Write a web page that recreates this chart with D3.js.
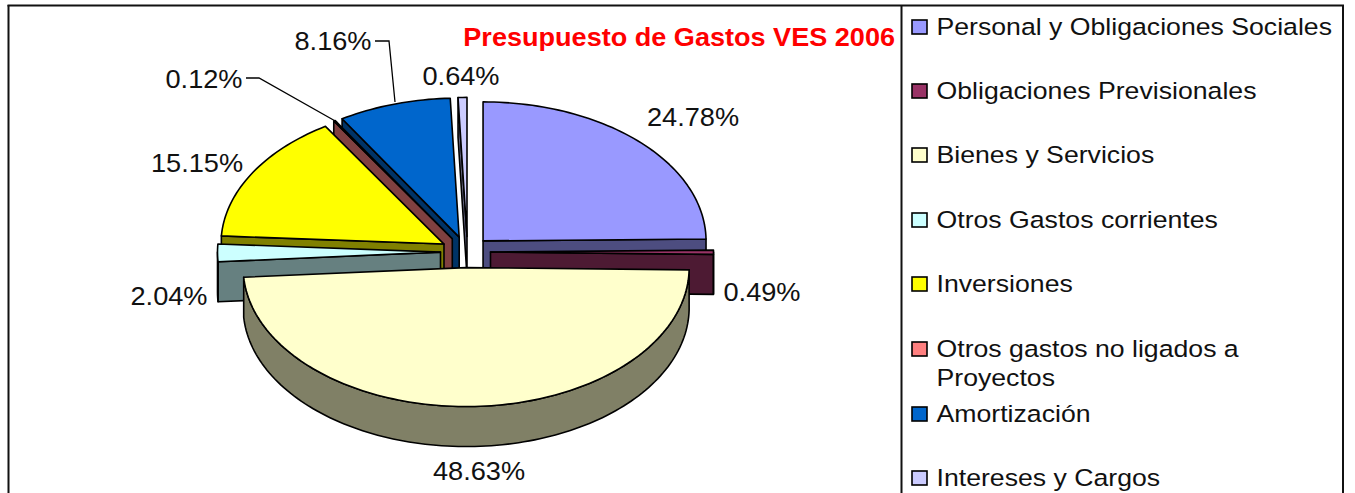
<!DOCTYPE html>
<html>
<head>
<meta charset="utf-8">
<title>Presupuesto de Gastos VES 2006</title>
<script src="https://d3js.org/d3.v7.min.js"></script>
<style>
html, body { margin: 0; padding: 0; background: #fff; overflow: hidden; }
text { font-family: "Liberation Sans", Arial, sans-serif; fill: #111; }
</style>
</head>
<body>
<svg class="chart" width="1355" height="493"></svg>
<script>
//data
var categories = ["Personal y Obligaciones Sociales", "Obligaciones Previsionales", "Bienes y Servicios",
	"Otros Gastos corrientes", "Inversiones", "Otros gastos no ligados a Proyectos", "Amortización", "Intereses y Cargos"];
var percentages = [24.78, 0.49, 48.63, 2.04, 15.15, 0.12, 8.16, 0.64];
var topColors = ["#9999ff", "#993366", "#ffffcc", "#ccffff", "#ffff00", "#ff8080", "#0066cc", "#ccccff"];
var wallColors = ["#4d4d80", "#4d1a33", "#808066", "#668080", "#808000", "#804040", "#003366", "#666680"];
var chartTitle = "Presupuesto de Gastos VES 2006";

//pie geometry
var cx = 465.5, cy = 252, rx = 223, ry = 139, depth = 40, explode = 25;
var tilt = ry / rx;
var nudgeX = [0, 0, 0, 0, 0, 0, 1, 2];

var svg = d3.select(".chart");

var slices = d3.pie().sort(null).value(function(d){ return d; })(percentages);
slices.forEach(function(s, i){
	var mid = (s.startAngle + s.endAngle) / 2;
	s.mx = cx + explode * Math.sin(mid) + nudgeX[i];
	s.my = cy - explode * Math.cos(mid) * tilt;
});

function rim(s, a){
	return [s.mx + rx * Math.sin(a), s.my - ry * Math.cos(a)];
}

function rimPoints(s, a0, a1){
	var steps = Math.max(2, Math.ceil(Math.abs(a1 - a0) * 40));
	return d3.range(steps + 1).map(function(k){ return rim(s, a0 + (a1 - a0) * k / steps); });
}

var line = d3.line();
function down(p){ return [p[0], p[1] + depth]; }

function drawFace(points, color){
	svg.append("path")
		.attr("d", line(points) + "Z")
		.attr("fill", color)
		.attr("stroke", "#000")
		.attr("stroke-width", 1.6)
		.attr("stroke-linejoin", "round");
}

//back slices first, the big front one last
var drawOrder = [7, 6, 5, 4, 3, 0, 1, 2];
drawOrder.forEach(function(i){
	var s = slices[i], apex = [s.mx, s.my];
	//cut walls, only the ones turned to the viewer
	if(Math.sin(s.startAngle) < -0.001){
		var p0 = rim(s, s.startAngle);
		drawFace([apex, p0, down(p0), down(apex)], wallColors[i]);
	}
	if(Math.sin(s.endAngle) > 0.001){
		var p1 = rim(s, s.endAngle);
		drawFace([apex, p1, down(p1), down(apex)], wallColors[i]);
	}
	//outer wall only where the rim faces the viewer
	var a0 = Math.max(s.startAngle, Math.PI / 2), a1 = Math.min(s.endAngle, Math.PI * 1.5);
	if(a1 > a0){
		var arc = rimPoints(s, a0, a1);
		drawFace(arc.concat(arc.map(down).reverse()), wallColors[i]);
	}
	drawFace([apex].concat(rimPoints(s, s.startAngle, s.endAngle)), topColors[i]);
});

//the reference text is a stretched picture, so text is widened a bit
var stretch = 1.088;
function place(x, y, sx){
	return "translate(" + x + "," + y + ") scale(" + sx + ",1)";
}

//data labels
var labelAnchors = [[693, 126], [762, 301], [479, 480], [169, 305], [197, 172], [204, 88], [333, 50], [461, 85]];
svg.selectAll(".value")
	.data(percentages)
	.enter()
	.append("text")
	.attr("class", "value")
	.attr("transform", function(d, i){ return place(labelAnchors[i][0], labelAnchors[i][1], stretch); })
	.attr("text-anchor", "middle")
	.attr("font-size", 25)
	.text(function(d){ return d.toFixed(2) + "%"; });

//leader lines
var leaders = [[[246, 78], [259, 78], [337, 122]], [[375, 41], [389, 41], [395, 102]]];
leaders.forEach(function(l){
	svg.append("path").attr("d", line(l)).attr("fill", "none").attr("stroke", "#000").attr("stroke-width", 1.3);
});

svg.append("text")
	.attr("transform", place(895, 46, 1.083))
	.attr("text-anchor", "end")
	.attr("font-size", 25)
	.attr("font-weight", "bold")
	.style("fill", "#ff0000")
	.text(chartTitle);

//legend
var legendRows = [27, 91, 155, 220, 284, 349, 414, 478];
var legend = svg.selectAll(".legend")
	.data(categories)
	.enter()
	.append("g")
	.attr("class", "legend");

legend.append("rect")
	.attr("x", 912)
	.attr("y", function(d, i){ return legendRows[i] - 7; })
	.attr("width", 15)
	.attr("height", 14)
	.attr("fill", function(d, i){ return topColors[i]; })
	.attr("stroke", "#000")
	.attr("stroke-width", 1.6);

legend.each(function(d, i){
	var g = d3.select(this);
	var rows = i === 5 ? ["Otros gastos no ligados a", "Proyectos"] : [d];
	rows.forEach(function(r, k){
		g.append("text")
			.attr("transform", place(936.5, legendRows[i] + 8 + k * 29, stretch))
			.attr("font-size", 24.5)
			.text(r);
	});
});

//frame
var frame = [[[7.5, 5.5], [1344, 5.5]], [[8.5, 5], [8.5, 493]], [[901.5, 5], [901.5, 493]], [[1343, 5], [1343, 493]]];
frame.forEach(function(l){
	svg.append("path").attr("d", line(l)).attr("fill", "none").attr("stroke", "#111").attr("stroke-width", 2);
});
</script>
</body>
</html>
